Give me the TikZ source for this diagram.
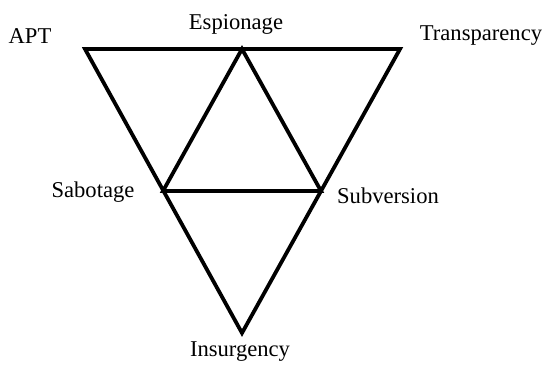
\documentclass[tikz,border=0pt]{standalone}
\usepackage{fontspec}
\setmainfont{Liberation Serif}
\usepackage{tikz}
\pgfdeclarelayer{background}
\pgfdeclarelayer{foreground}
\pgfsetlayers{background,main,foreground}
\tikzset{
  edge/.style={line width=1.9pt, line join=miter},
  lbl/.style={font=\fontsize{11.3}{13}\selectfont, inner sep=0pt}
}
\begin{document}
\begin{tikzpicture}[x=0.5pt,y=-0.5pt]
\useasboundingbox (0,0) rectangle (546,364);
% corners and midpoints
\coordinate (apt) at (85,49);
\coordinate (tra) at (400,49);
\coordinate (ins) at (242,333);
\coordinate (esp) at (242,49);
\coordinate (sab) at (163,191);
\coordinate (sub) at (321,191);
\begin{pgfonlayer}{background}
\draw[edge] (apt) -- (tra) -- (ins) -- cycle;
\draw[edge] (esp) -- (sab) -- (sub) -- cycle;
\end{pgfonlayer}
\begin{pgfonlayer}{foreground}
\node[lbl] (aptlbl) at (30,36) {APT};
\node[lbl] (esplbl) at (236,24) {Espionage};
\node[lbl] (tralbl) at (481,36) {Transparency};
\node[lbl] (sablbl) at (93,192) {Sabotage};
\node[lbl] (sublbl) at (388,196) {Subversion};
\node[lbl] (inslbl) at (240,352) {Insurgency};
\end{pgfonlayer}
\end{tikzpicture}
\end{document}
